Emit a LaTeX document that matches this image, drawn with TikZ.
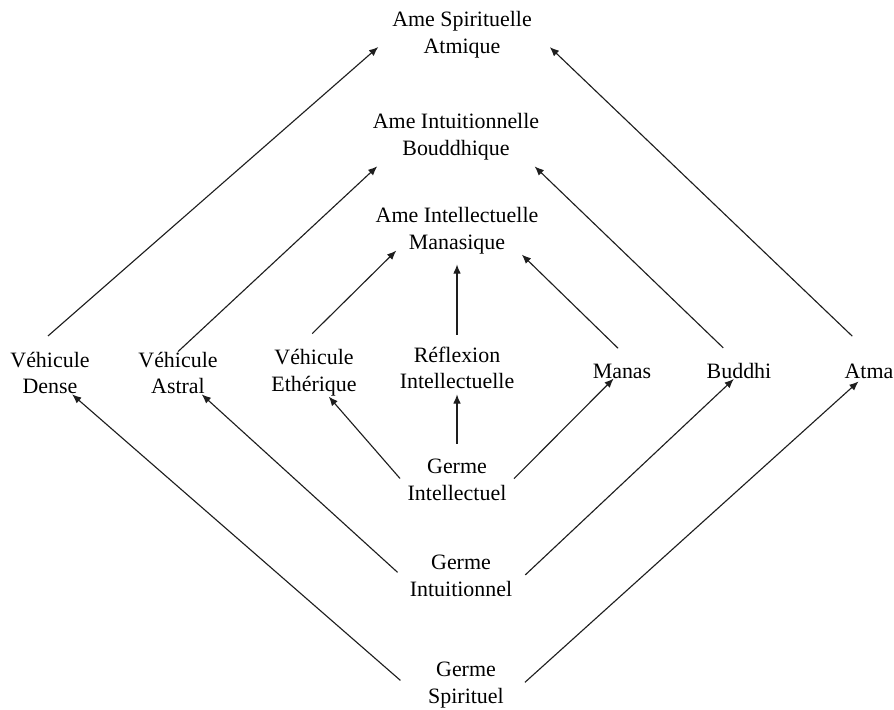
\documentclass[tikz,border=0pt]{standalone}
\usepackage{fontspec}
\setmainfont{Liberation Serif}
\usepackage{tikz}
\usetikzlibrary{arrows.meta}
\definecolor{color1}{RGB}{30,30,30}

\begin{document}
\begin{tikzpicture}[
  lbl/.style={align=center, inner sep=0pt, font=\fontsize{15.6}{19}\selectfont},
  arr/.style={-{Latex[length=2.3mm,width=1.9mm]}, color1, line width=0.8pt}]
\useasboundingbox (0,0) rectangle (22.35,-17.725);

\node[lbl] (asp) at (11.55,-0.875) {Ame Spirituelle\\Atmique};
\node[lbl] (abo) at (11.4,-3.425) {Ame Intuitionnelle\\Bouddhique};
\node[lbl] (ama) at (11.425,-5.775) {Ame Intellectuelle\\Manasique};

\node[lbl] (vde) at (1.25,-9.325) {Véhicule\\Dense};
\node[lbl] (vas) at (4.45,-9.325) {Véhicule\\Astral};
\node[lbl] (vet) at (7.85,-9.325) {Véhicule\\Ethérique};
\node[lbl] (ref) at (11.425,-9.2) {Réflexion\\Intellectuelle};
\node[lbl] (man) at (15.55,-9.275) {Manas};
\node[lbl] (bud) at (18.475,-9.275) {Buddhi};
\node[lbl] (atm) at (21.725,-9.275) {Atma};

\node[lbl] (gin) at (11.425,-12.0) {Germe\\Intellectuel};
\node[lbl] (gtu) at (11.525,-14.4) {Germe\\Intuitionnel};
\node[lbl] (gsp) at (11.65,-17.125) {Germe\\Spirituel};

\draw[arr, shorten <=17pt, shorten >=13pt] (vde.133) -- (asp.west);
\draw[arr, shorten >=6pt] (vas.north) -- (abo.198);
\draw[arr, shorten <=16pt, shorten >=-4pt] (vet.127) -- (ama.200);
\draw[arr, shorten <=8.5pt, shorten >=7pt] (ref.north) -- (ama.south);
\draw[arr, shorten <=15.5pt] (man.33) -- (ama.340);
\draw[arr, shorten <=15.5pt, shorten >=6pt] (bud.north) -- (abo.342);
\draw[arr, shorten <=28pt, shorten >=17.5pt] (atm.33) -- (asp.4);

\draw[arr, shorten <=8pt] (gin.188) -- (vet.302);
\draw[arr, shorten <=11pt, shorten >=3.5pt] (gin.north) -- (ref.south);
\draw[arr, shorten <=7.5pt] (gin.353) -- (man.222);
\draw[arr, shorten <=11.5pt] (gtu.188) -- (vas.318);
\draw[arr, shorten <=12.5pt] (gtu.348) -- (bud.237);
\draw[arr, shorten <=26pt] (gsp.207) -- (vde.316);
\draw[arr, shorten <=20pt, shorten >=3pt] (gsp.337) -- (atm.226);
\end{tikzpicture}
\end{document}
